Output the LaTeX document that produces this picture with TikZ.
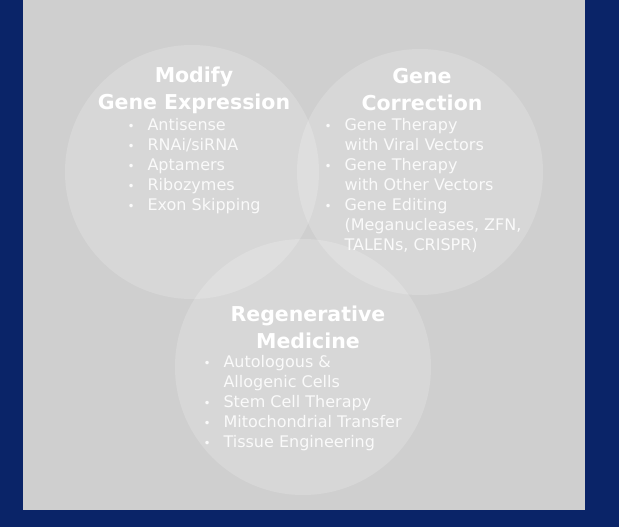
\documentclass[tikz,border=0pt]{standalone}
\usepackage{fontspec}
\setmainfont{DejaVu Sans}
\definecolor{navy}{HTML}{0A2468}
\definecolor{panel}{HTML}{CFCFCF}
\tikzset{
  venn/.style={circle, fill=white, fill opacity=0.18, draw=none},
  heading/.style={text=white, font=\bfseries\fontsize{20.5}{27}\selectfont, align=center},
  items/.style={text=white!96!gray, font=\fontsize{16}{20}\selectfont, align=left, anchor=north west}
}
\newcommand{\itm}{\makebox[20pt][l]{\fontsize{12}{12}\selectfont\textbullet}}
\begin{document}
\begin{tikzpicture}[x=1pt, y=-1pt]
    % background
    \fill[navy] (0,0) rectangle (619,527);
    \fill[panel] (23,0) rectangle (585,510);
    % circles
    \node[venn, minimum size=254pt] (modify) at (192,172) {};
    \node[venn, minimum size=246pt] (correct) at (420,172) {};
    \node[venn, minimum size=256pt] (regen) at (303,367) {};
    % headings
    \node[heading] (hmod) at (194,90) {Modify\\Gene Expression};
    \node[heading] (hcor) at (422,90) {Gene\\Correction};
    \node[heading] (hreg) at (308,327) {Regenerative\\Medicine};
    % lists
    \node[items] (lmod) at (124,115) {\itm Antisense\\\itm RNAi/siRNA\\\itm Aptamers\\\itm Ribozymes\\\itm Exon Skipping};
    \node[items] (lcor) at (321,115) {\itm Gene Therapy\\\hspace*{20pt}with Viral Vectors\\\itm Gene Therapy\\\hspace*{20pt}with Other Vectors\\\itm Gene Editing\\\hspace*{20pt}(Meganucleases, ZFN,\\\hspace*{20pt}TALENs, CRISPR)};
    \node[items] (lreg) at (200,352) {\itm Autologous \&\\\hspace*{20pt}Allogenic Cells\\\itm Stem Cell Therapy\\\itm Mitochondrial Transfer\\\itm Tissue Engineering};
\end{tikzpicture}
\end{document}
